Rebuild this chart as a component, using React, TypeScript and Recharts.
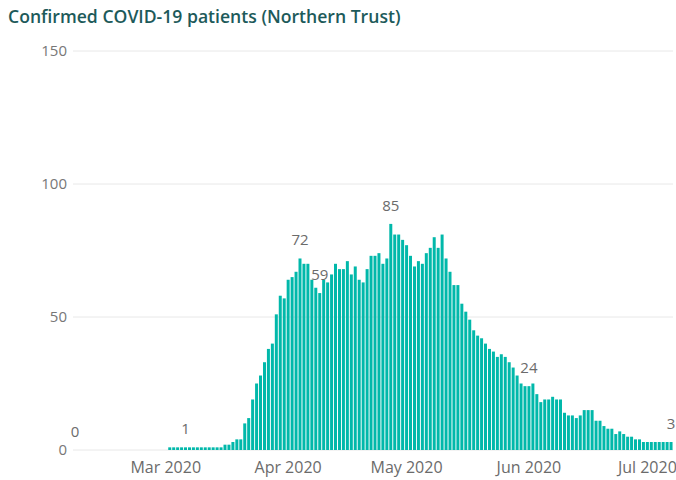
import { Bar, CartesianGrid, ComposedChart, LabelList, Line, XAxis, YAxis } from 'recharts';

// daily confirmed patients, one value per day starting 7 Feb 2020
const startDay = { year: 2020, month: 1, day: 7 };
const patients = [
  0, 0, 0, 0, 0, 0, 0, 0, 0, 0, 0, 0, 0, 0, 0, 0, 0, 0, 0, 0, 0, 0, 0, 0,
  1, 1, 1, 1, 1, 1, 1, 1, 1, 1, 1, 1, 1, 1,
  2, 2, 3, 4, 4, 10, 12, 19, 25, 28, 33, 38, 40, 51, 58, 57, 64, 65, 67,
  72, 70, 70, 64, 61, 59, 64, 63, 66, 70, 68, 68, 71, 66, 69, 64, 63, 68, 73, 73, 74, 70, 72,
  85, 81, 81, 79, 77, 73, 69, 71, 70, 74, 76, 80, 76, 81, 72, 67, 62, 62, 55, 52, 49,
  45, 43, 42, 40, 38, 37, 35, 36, 35, 33, 31, 28, 25,
  24, 24, 25, 21, 18, 19, 19, 20, 19, 19, 14, 13, 13, 12, 13, 15, 15, 15, 11, 11, 9, 8, 8,
  6, 7, 6, 5, 5, 4, 4, 3, 3, 3, 3, 3, 3, 3, 3,
];

const monthTicks = ['2020-03-01', '2020-04-01', '2020-05-01', '2020-06-01', '2020-07-01'];
const monthLabels = ['Mar 2020', 'Apr 2020', 'May 2020', 'Jun 2020', 'Jul 2020'];
const yTicks = [0, 50, 100, 150];
// days that carry a data label in the original
const labelledDays = ['2020-02-07', '2020-03-06', '2020-04-04', '2020-04-09', '2020-04-27', '2020-06-01', '2020-07-07'];

const dayKey = (i: number) =>
  new Date(Date.UTC(startDay.year, startDay.month, startDay.day + i)).toISOString().slice(0, 10);

const data = patients.map((value, i) => {
  const date = dayKey(i);
  return { date, value, label: labelledDays.includes(date) ? String(value) : undefined };
});

function MonthTick({ x, y, payload }: any) {
  const i = monthTicks.indexOf(payload.value);
  if (i < 0) return null;
  return (
    <text x={x} y={y} dy={15} textAnchor="middle" fill="#6b6b6b" fontSize={16}>
      {monthLabels[i]}
    </text>
  );
}

// labels hang off an invisible line so the zero-height first day still gets one
function DataLabel({ x, y, value }: any) {
  if (value === undefined || value === null || value === '') return null;
  return (
    <text x={x} y={y - 13} textAnchor="middle" fill="#6b6b6b" fontSize={15}>
      {value}
    </text>
  );
}

export default function App() {
  return (
    <div
      style={{
        position: 'absolute',
        left: 0,
        top: 0,
        width: 676,
        height: 480,
        background: '#fff',
        fontFamily: '"Open Sans", sans-serif',
      }}
    >
      <div
        style={{
          position: 'absolute',
          left: 8,
          top: 4,
          fontSize: 17.6,
          fontWeight: 600,
          color: '#1d5a5a',
          whiteSpace: 'nowrap',
        }}
      >
        Confirmed COVID-19 patients (Northern Trust)
      </div>
      <ComposedChart
        width={676}
        height={480}
        data={data}
        margin={{ top: 51, right: 3, left: 0, bottom: 0 }}
        barCategoryGap={0.5}
      >
        <CartesianGrid vertical={false} stroke="#e8e8e8" />
        <XAxis
          dataKey="date"
          interval={0}
          tick={<MonthTick />}
          tickLine={false}
          axisLine={false}
          height={30}
        />
        <YAxis
          domain={[0, 150]}
          ticks={yTicks}
          width={73}
          tickLine={false}
          axisLine={false}
          tickSize={0}
          tickMargin={6}
          tick={{ fill: '#777', fontSize: 15 }}
        />
        <Bar dataKey="value" fill="#01B8AA" isAnimationActive={false} />
        <Line
          dataKey="value"
          stroke="none"
          dot={false}
          activeDot={false}
          isAnimationActive={false}
        >
          <LabelList dataKey="label" content={<DataLabel />} />
        </Line>
      </ComposedChart>
    </div>
  );
}
